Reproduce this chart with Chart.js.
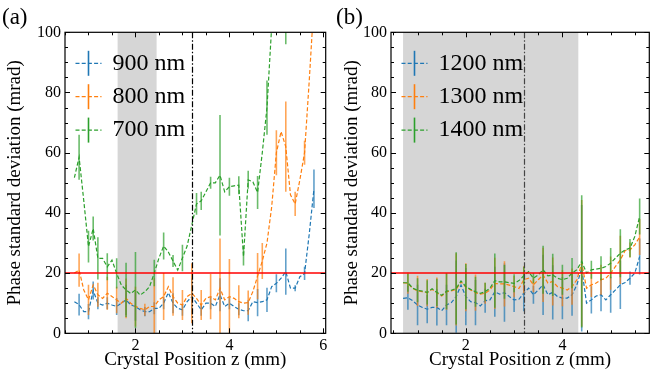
<!DOCTYPE html>
<html>
<head>
<meta charset="utf-8">
<script src="https://cdn.jsdelivr.net/npm/chart.js@4"></script>
<style>
  body { margin: 0; background: #fff; width: 655px; height: 372px; position: relative; overflow: hidden; }
  canvas { position: absolute; top: 0; }
  .tag { position: absolute; top: 4px; font: 23px/25px "Liberation Serif", serif; color: #000; }
</style>
</head>
<body>
<canvas id="chartA" width="335" height="372" style="left:0"></canvas>
<canvas id="chartB" width="320" height="372" style="left:335px"></canvas>
<div class="tag" style="left:2px">(a)</div>
<div class="tag" style="left:336px">(b)</div>
<script>
// ---- data, panel (a) ----
const zA = [0.7,0.8,0.9,1.0,1.1,1.2,1.3,1.4,1.5,1.6,1.7,1.8,1.9,2.0,2.1,2.2,2.3,2.4,2.5,2.6,
            2.7,2.8,2.9,3.0,3.1,3.2,3.3,3.4,3.5,3.6,3.7,3.8,3.9,4.0,4.1,4.2,4.3,4.4,4.5,4.6,
            4.7,4.8,4.9,5.0,5.1,5.2,5.3,5.4,5.5,5.6,5.7,5.8];
const nm900 = [10.5,9.5,7.2,7.2,14.2,10,9.4,10,9.4,8.9,10,11.1,9.4,8.9,7.8,7.2,7.2,8.3,8.3,10,
               13.5,10,8.3,7.8,10.5,12.2,10,7.8,10,10,8.9,12.8,8.9,10,8.9,8,7.5,7.5,10.5,10.2,
               10.5,11.1,15.5,16.6,18.3,20.5,15,15,18.8,19.9,33,48];
const nm800 = [20,21,14.4,11.1,16.1,12.8,11.6,13.3,12.2,11.1,10,11.6,10,8.9,8.3,7.8,8.9,8.9,11.1,12.2,
               15.5,12.2,10,9.4,12.2,13.3,11.6,9.4,11.6,12.2,11.1,15,11.1,12.2,11.6,10.5,10,10.2,13.9,19,
               24,30,42,60,67,62,46,43,51,60,84,110];
const nm700 = [51.7,58.5,44,28.8,34.8,24.9,24.9,22.1,24.3,19.9,16,14.4,13.2,14.4,12.7,13.8,15.5,20,25,29,
               27,24,21,25,29,36,43,44,47,50,50,52.5,47,48.7,49,49.2,25.5,51,50.3,46.8,
               60,75,102,112,118,108,null,null,null,null,null,null];
const err900 = [null,3.6,null,2.5,3,2,null,2,null,2.8,null,5,null,4.7,null,1.5,null,2,null,2,
                null,3.3,null,2,null,6,null,2,null,2,null,5.5,null,2,null,2,null,3.5,null,4.5,
                null,4,null,3,null,7.7,null,1,null,2.2,null,6.4];
const err800 = [null,5.5,null,5,null,4,null,5.5,null,4.4,null,6.6,null,6.6,null,2,null,9.4,null,7.8,
                null,6.4,null,5,null,10,null,5,null,7.5,null,16.5,null,12.5,null,5.5,null,4,null,7.7,
                6,null,null,7.5,null,15,null,4,null,4,null,null];
const err700 = [null,7.5,null,5.3,4,7,null,4.5,null,5,null,9,null,12.6,null,null,null,4.4,null,4.5,
                null,2,null,4.4,null,null,3.6,3,null,2,null,20,null,3,null,3,3,3,null,5.5,
                null,9,null,null,null,12,null,null,null,null,null,null];

// ---- data, panel (b) ----
const zB = [0.7,0.8,0.9,1.0,1.1,1.2,1.3,1.4,1.5,1.6,1.7,1.8,1.9,2.0,2.1,2.2,2.3,2.4,2.5,2.6,
            2.7,2.8,2.9,3.0,3.1,3.2,3.3,3.4,3.5,3.6,3.7,3.8,3.9,4.0,4.1,4.2,4.3,4.4,4.5,4.6,
            4.7,4.8,4.9,5.0,5.1,5.2,5.3,5.4,5.5,5.6];
const nm1200 = [11.6,11.8,10.8,9.4,8.6,8,8.6,8.6,7.5,9.4,10.2,12.2,16,12.2,10.5,10.2,9.1,10.8,11.1,13.8,
                13,13.5,12.2,11.1,11.3,13.3,15,12.8,14.4,16.1,12.8,13.6,12.2,11.7,11.7,12.8,16.1,21.6,10,11.1,
                12.4,12.8,11.1,12.8,14.4,16.1,16.9,18.3,20,25.5];
const nm1300 = [16.8,16.6,14.9,14.1,13.8,13.5,14.6,13.5,12.4,13.8,14.1,14.6,17.1,15.3,14.4,13.5,13,13.3,14.4,16.6,
                16.4,16.4,16,15.5,14.9,17.8,18.3,16.1,17.8,19.4,16.7,17.2,15.5,15,14.4,15.5,17.8,23.3,15,16.1,
                16.7,17.8,18.3,20,22.2,24.4,27.5,27.7,29.4,32];
const nm1400 = [16.8,16.8,15,14.3,14,13.6,14.8,13.6,12.6,14,14.3,14.9,17.4,15.5,14.6,13.8,13.3,13.8,15,17.5,
                17.1,17.1,16.8,16.6,17.5,19.1,20.5,18.3,19.4,21.1,19.1,19.4,18.3,17.8,18.3,20,21.1,23.9,20,21.1,
                21.3,21.6,22.2,23.3,25,26.6,27.7,28.3,32.2,38.8];
const err1200 = [null,4,null,6.7,null,4.7,null,6,null,6.7,null,12,null,9.5,null,7.5,null,4,null,8.3,
                 null,9.7,null,4,null,6,null,3,null,10,null,9,null,7,null,7,null,21,null,4.5,
                 null,5.5,null,6,null,8,null,2.2,null,6];
const err1300 = [null,3.5,null,5,null,4.5,null,5,null,6,null,12,null,8,null,6,null,3.5,null,8.5,
                 null,7.5,null,3.5,null,4.5,null,2.5,null,9,null,8,null,6,null,6,null,21,null,4,
                 null,5,null,5.5,null,8,null,2.5,null,6];
const err1400 = [null,3,null,4,null,4,null,4.5,null,6,null,12,null,7.5,null,5,null,3,null,9,
                 null,5.6,null,3,null,3,null,1.7,null,8,null,7,null,5,null,5,null,22,null,3,
                 null,4,null,5,null,8,null,3,null,6];

// ---- ticks ----
const xTicksA = [2, 4, 6];
const xTicksB = [2, 4];
const yTicks = [0, 20, 40, 60, 80, 100];

const FONT = "'Liberation Serif', 'DejaVu Serif', serif";
const BLUE = '31,119,180', ORANGE = '255,127,14', GREEN = '44,160,44';

// shaded band, dash-dot line, threshold, error bars, frame + inward ticks, legend
const decor = {
  id: 'decor',
  beforeDatasetsDraw(chart, args, o) {
    const {ctx, chartArea: a, scales: {x}} = chart;
    const x0 = Math.max(a.left, x.getPixelForValue(o.band[0]));
    const x1 = Math.min(a.right, x.getPixelForValue(o.band[1]));
    ctx.save();
    ctx.fillStyle = '#d6d6d6';
    ctx.fillRect(x0, a.top, x1 - x0, a.bottom - a.top);
    ctx.restore();
  },
  afterDatasetDraw(chart, args, o) {
    const {ctx, chartArea: a, scales: {x, y}} = chart;
    const ds = chart.data.datasets[args.index];
    ctx.save();
    ctx.beginPath();
    ctx.rect(a.left, a.top, a.right - a.left, a.bottom - a.top);
    ctx.clip();
    ctx.strokeStyle = 'rgba(' + ds.rgb + ',0.7)';
    ctx.lineWidth = 1.6;
    ctx.beginPath();
    ds.data.forEach((p, i) => {
      const e = ds.err[i];
      if (e == null || p.y == null) return;
      const px = x.getPixelForValue(p.x);
      ctx.moveTo(px, y.getPixelForValue(p.y - e));
      ctx.lineTo(px, y.getPixelForValue(p.y + e));
    });
    ctx.stroke();
    ctx.restore();
  },
  afterDatasetsDraw(chart, args, o) {
    const {ctx, chartArea: a, scales: {x, y}} = chart;
    ctx.save();
    const vx = Math.round(x.getPixelForValue(o.vline)) + 0.5;
    ctx.strokeStyle = o.vcolor;
    ctx.lineWidth = 1.2;
    ctx.setLineDash([6, 2, 1.5, 2]);
    ctx.beginPath();
    ctx.moveTo(vx, a.top); ctx.lineTo(vx, a.bottom);
    ctx.stroke();
    ctx.setLineDash([]);
    const ry = y.getPixelForValue(20);
    ctx.strokeStyle = '#ff0000';
    ctx.lineWidth = 1.5;
    ctx.beginPath();
    ctx.moveTo(a.left, ry); ctx.lineTo(a.right, ry);
    ctx.stroke();
    ctx.restore();
  },
  afterDraw(chart, args, o) {
    const {ctx, chartArea: a, scales: {x, y}} = chart;
    ctx.save();
    ctx.strokeStyle = '#000';
    ctx.lineWidth = 1;
    ctx.beginPath();
    for (let v = Math.ceil(x.min * 2) / 2; v <= x.max + 1e-9; v += 0.5) {
      const px = Math.round(x.getPixelForValue(v)) + 0.5;
      const len = o.xMajor.includes(v) ? 5 : 3;
      ctx.moveTo(px, a.bottom); ctx.lineTo(px, a.bottom - len);
      ctx.moveTo(px, a.top); ctx.lineTo(px, a.top + len);
    }
    for (let v = 0; v <= 100; v += 5) {
      const py = Math.round(y.getPixelForValue(v)) + 0.5;
      const len = yTicks.includes(v) ? 5 : 3;
      ctx.moveTo(a.left, py); ctx.lineTo(a.left + len, py);
      ctx.moveTo(a.right, py); ctx.lineTo(a.right - len, py);
    }
    ctx.stroke();
    ctx.lineWidth = 1.2;
    ctx.strokeRect(a.left, a.top, a.right - a.left, a.bottom - a.top);

    // legend
    ctx.font = '24px ' + FONT;
    ctx.textBaseline = 'middle';
    ctx.fillStyle = '#000';
    const lx = a.left + 10.5;
    chart.data.datasets.forEach((ds, i) => {
      const cy = a.top + 31 + i * 33.4;
      ctx.strokeStyle = 'rgb(' + ds.rgb + ')';
      ctx.lineWidth = 1.2;
      ctx.setLineDash([4, 2.2]);
      ctx.beginPath();
      ctx.moveTo(lx, cy); ctx.lineTo(lx + 26, cy);
      ctx.stroke();
      ctx.setLineDash([]);
      ctx.lineWidth = 1.6;
      ctx.beginPath();
      ctx.moveTo(lx + 13, cy - 12.5); ctx.lineTo(lx + 13, cy + 12.5);
      ctx.stroke();
      ctx.fillText(ds.label, lx + 37, cy);
    });
    ctx.restore();
  }
};

function panel(id, z, series, p) {
  return new Chart(document.getElementById(id), {
    type: 'line',
    data: {
      datasets: series.map((s, i) => ({
        label: s.name,
        rgb: s.rgb,
        err: s.err,
        data: z.map((v, k) => ({x: v, y: s.vals[k]})),
        borderColor: 'rgb(' + s.rgb + ')',
        borderWidth: 1.2,
        borderDash: [4, 2.2],
        pointRadius: 0,
        tension: 0,
        fill: false,
        order: series.length - 1 - i
      }))
    },
    options: {
      responsive: false,
      animation: false,
      devicePixelRatio: 1,
      layout: {padding: {left: 0, right: p.padRight, top: 32.3, bottom: 0}},
      plugins: {
        legend: {display: false},
        tooltip: {enabled: false},
        decor: {band: p.band, vline: 3.2, vcolor: p.vcolor, xMajor: p.xTicks}
      },
      scales: {
        x: {
          type: 'linear', min: p.xMin, max: p.xMax,
          afterBuildTicks: s => { s.ticks = p.xTicks.map(v => ({value: v})); },
          afterFit: s => { s.height = 38.7; },
          grid: {display: false, drawTicks: false},
          border: {display: false},
          ticks: {padding: 3, color: '#000', font: {family: FONT, size: 16}},
          title: {display: true, text: 'Crystal Position z (mm)', color: '#000',
                  font: {family: FONT, size: 19}, padding: {top: 0, bottom: 0.6}}
        },
        y: {
          min: 0, max: 100,
          afterBuildTicks: s => { s.ticks = yTicks.map(v => ({value: v})); },
          afterFit: s => { s.width = p.yWidth; },
          grid: {display: false, drawTicks: false},
          border: {display: false},
          ticks: {padding: 4, color: '#000', font: {family: FONT, size: 16}},
          title: {display: true, text: 'Phase standard deviation (mrad)', color: '#000',
                  font: {family: FONT, size: 19}, padding: {top: p.titlePad, bottom: 0}}
        }
      }
    },
    plugins: [decor]
  });
}

panel('chartA', zA, [
  {name: '900 nm', vals: nm900, err: err900, rgb: BLUE},
  {name: '800 nm', vals: nm800, err: err800, rgb: ORANGE},
  {name: '700 nm', vals: nm700, err: err700, rgb: GREEN}
], {xMin: 0.5, xMax: 6.05, xTicks: xTicksA, band: [1.62, 2.45], vcolor: '#000',
    yWidth: 65, padRight: 9.3, titlePad: 3.6});

panel('chartB', zB, [
  {name: '1200 nm', vals: nm1200, err: err1200, rgb: BLUE},
  {name: '1300 nm', vals: nm1300, err: err1300, rgb: ORANGE},
  {name: '1400 nm', vals: nm1400, err: err1400, rgb: GREEN}
], {xMin: 0.45, xMax: 5.8, xTicks: xTicksB, band: [0.7, 4.33], vcolor: '#444',
    yWidth: 56, padRight: 5.7, titlePad: 5.6});
</script>
</body>
</html>
